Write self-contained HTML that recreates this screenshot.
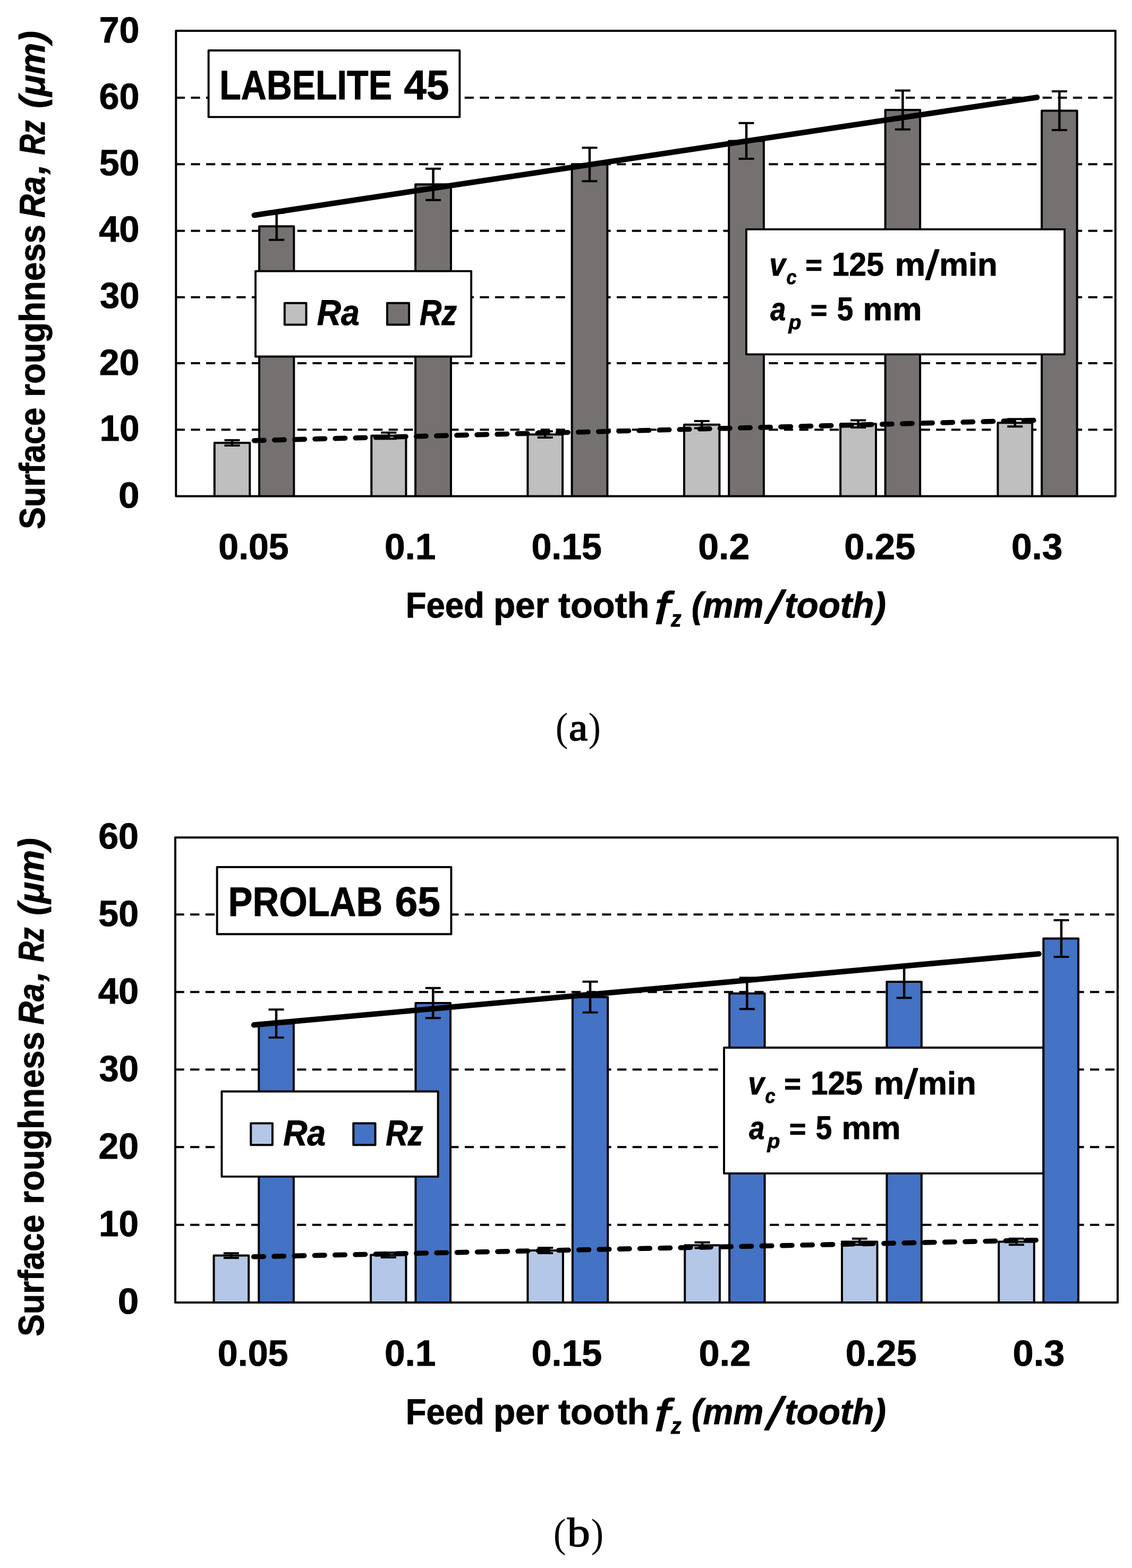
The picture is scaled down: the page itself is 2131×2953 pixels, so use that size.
<!DOCTYPE html>
<html lang="en"><head><meta charset="utf-8"><title>Surface roughness Ra, Rz versus feed per tooth</title>
<style>html,body{margin:0;padding:0;background:#fff}body{width:2131px;height:2953px;overflow:hidden}svg{display:block}text{font-kerning:none;white-space:pre;fill:#000;text-rendering:geometricPrecision}</style>
</head><body>
<svg width="2131" height="2953" viewBox="0 0 2131 2953" role="img">
<rect x="0" y="0" width="2131" height="2953" fill="#fff"/>
<g id="chart-a">
<g class="grid">
<line x1="330.75" y1="183.95" x2="2099.80" y2="183.95" stroke="#000" stroke-width="4.00" stroke-dasharray="17.20 11.43"/>
<line x1="330.75" y1="309.30" x2="2099.80" y2="309.30" stroke="#000" stroke-width="4.00" stroke-dasharray="17.20 11.43"/>
<line x1="330.75" y1="434.75" x2="2099.80" y2="434.75" stroke="#000" stroke-width="4.00" stroke-dasharray="17.20 11.43"/>
<line x1="330.75" y1="559.85" x2="2099.80" y2="559.85" stroke="#000" stroke-width="4.00" stroke-dasharray="17.20 11.43"/>
<line x1="330.75" y1="684.00" x2="2099.80" y2="684.00" stroke="#000" stroke-width="4.00" stroke-dasharray="17.20 11.43"/>
<line x1="330.75" y1="809.30" x2="2099.80" y2="809.30" stroke="#000" stroke-width="4.00" stroke-dasharray="17.20 11.43"/>
</g>
<g class="bars">
<path d="M403.75 934.40V834.00H470.24V934.40" fill="#bfbfbf" stroke="#000" stroke-width="4.00" stroke-linejoin="round"/>
<path d="M699.24 934.40V820.50H764.39V934.40" fill="#bfbfbf" stroke="#000" stroke-width="4.00" stroke-linejoin="round"/>
<path d="M993.38 934.40V818.20H1059.02V934.40" fill="#bfbfbf" stroke="#000" stroke-width="4.00" stroke-linejoin="round"/>
<path d="M1288.00 934.40V799.80H1354.40V934.40" fill="#bfbfbf" stroke="#000" stroke-width="4.00" stroke-linejoin="round"/>
<path d="M1582.16 934.40V798.25H1649.02V934.40" fill="#bfbfbf" stroke="#000" stroke-width="4.00" stroke-linejoin="round"/>
<path d="M1878.38 934.40V796.30H1943.16V934.40" fill="#bfbfbf" stroke="#000" stroke-width="4.00" stroke-linejoin="round"/>
<path d="M488.05 934.40V426.20H553.32V934.40" fill="#767171" stroke="#000" stroke-width="4.00" stroke-linejoin="round"/>
<path d="M782.07 934.40V347.30H848.93V934.40" fill="#767171" stroke="#000" stroke-width="4.00" stroke-linejoin="round"/>
<path d="M1076.60 934.40V309.74H1143.35V934.40" fill="#767171" stroke="#000" stroke-width="4.00" stroke-linejoin="round"/>
<path d="M1372.20 934.40V265.47H1437.85V934.40" fill="#767171" stroke="#000" stroke-width="4.00" stroke-linejoin="round"/>
<path d="M1666.60 934.40V207.10H1732.10V934.40" fill="#767171" stroke="#000" stroke-width="4.00" stroke-linejoin="round"/>
<path d="M1961.10 934.40V208.45H2027.60V934.40" fill="#767171" stroke="#000" stroke-width="4.00" stroke-linejoin="round"/>
</g>
<g class="errorbars" stroke="#000" fill="none">
<path d="M437.00 828.96V839.04" stroke-width="4.50"/>
<path d="M422.50 828.96H451.50M422.50 839.04H451.50" stroke-width="4.00"/>
<path d="M731.82 814.79V826.21" stroke-width="4.50"/>
<path d="M717.32 814.79H746.32M717.32 826.21H746.32" stroke-width="4.00"/>
<path d="M1026.20 812.37V824.03" stroke-width="4.50"/>
<path d="M1011.70 812.37H1040.70M1011.70 824.03H1040.70" stroke-width="4.00"/>
<path d="M1321.20 793.04V806.56" stroke-width="4.50"/>
<path d="M1306.70 793.04H1335.70M1306.70 806.56H1335.70" stroke-width="4.00"/>
<path d="M1615.59 791.42V805.08" stroke-width="4.50"/>
<path d="M1601.09 791.42H1630.09M1601.09 805.08H1630.09" stroke-width="4.00"/>
<path d="M1910.77 789.37V803.23" stroke-width="4.50"/>
<path d="M1896.27 789.37H1925.27M1896.27 803.23H1925.27" stroke-width="4.00"/>
<path d="M520.69 400.65V451.75" stroke-width="4.50"/>
<path d="M506.19 400.65H535.19M506.19 451.75H535.19" stroke-width="4.00"/>
<path d="M815.50 317.78V376.82" stroke-width="4.50"/>
<path d="M801.00 317.78H830.00M801.00 376.82H830.00" stroke-width="4.00"/>
<path d="M1109.97 278.33V341.15" stroke-width="4.50"/>
<path d="M1095.47 278.33H1124.47M1095.47 341.15H1124.47" stroke-width="4.00"/>
<path d="M1405.03 231.84V299.10" stroke-width="4.50"/>
<path d="M1390.53 231.84H1419.53M1390.53 299.10H1419.53" stroke-width="4.00"/>
<path d="M1699.35 170.53V243.67" stroke-width="4.50"/>
<path d="M1684.85 170.53H1713.85M1684.85 243.67H1713.85" stroke-width="4.00"/>
<path d="M1994.35 171.95V244.95" stroke-width="4.50"/>
<path d="M1979.85 171.95H2008.85M1979.85 244.95H2008.85" stroke-width="4.00"/>
</g>
<g class="trendlines">
<line x1="478.70" y1="405.30" x2="1952.10" y2="183.30" stroke="#000" stroke-width="10.40" stroke-linecap="round"/>
<line x1="478.50" y1="829.70" x2="1952.40" y2="791.40" stroke="#000" stroke-width="9.40" stroke-linecap="round" stroke-dasharray="18.70 19.44"/>
</g>
<rect x="331.30" y="58.10" width="1768.50" height="876.30" fill="none" stroke="#000" stroke-width="4.00" stroke-linejoin="round"/>
<g class="boxes">
<rect x="392.60" y="95.00" width="472.70" height="125.40" fill="#fff" stroke="#000" stroke-width="3.90" stroke-linejoin="round"/>
<rect x="481.00" y="510.60" width="406.10" height="160.90" fill="#fff" stroke="#000" stroke-width="3.90" stroke-linejoin="round"/>
<rect x="1404.90" y="431.85" width="599.25" height="235.50" fill="#fff" stroke="#000" stroke-width="3.90" stroke-linejoin="round"/>
<rect x="535.80" y="570.80" width="40.70" height="40.70" fill="#bfbfbf" stroke="#000" stroke-width="4.00" stroke-linejoin="round"/>
<rect x="728.90" y="570.80" width="41.20" height="40.70" fill="#767171" stroke="#000" stroke-width="4.00" stroke-linejoin="round"/>
</g>
<g class="labels">
<text font-family='"Liberation Sans", sans-serif' font-weight="bold"><tspan x="186.71" y="79.73" font-size="68.59" textLength="75.73" lengthAdjust="spacingAndGlyphs" stroke="#000" stroke-width="0.903" stroke-linejoin="round">70</tspan></text>
<text font-family='"Liberation Sans", sans-serif' font-weight="bold"><tspan x="186.60" y="204.93" font-size="68.59" textLength="75.85" lengthAdjust="spacingAndGlyphs" stroke="#000" stroke-width="0.903" stroke-linejoin="round">60</tspan></text>
<text font-family='"Liberation Sans", sans-serif' font-weight="bold"><tspan x="186.71" y="330.13" font-size="68.59" textLength="75.74" lengthAdjust="spacingAndGlyphs" stroke="#000" stroke-width="0.903" stroke-linejoin="round">50</tspan></text>
<text font-family='"Liberation Sans", sans-serif' font-weight="bold"><tspan x="186.17" y="455.33" font-size="68.59" textLength="76.30" lengthAdjust="spacingAndGlyphs" stroke="#000" stroke-width="0.900" stroke-linejoin="round">40</tspan></text>
<text font-family='"Liberation Sans", sans-serif' font-weight="bold"><tspan x="187.88" y="580.43" font-size="68.59" textLength="74.52" lengthAdjust="spacingAndGlyphs" stroke="#000" stroke-width="0.911" stroke-linejoin="round">30</tspan></text>
<text font-family='"Liberation Sans", sans-serif' font-weight="bold"><tspan x="186.81" y="705.53" font-size="68.59" textLength="75.63" lengthAdjust="spacingAndGlyphs" stroke="#000" stroke-width="0.904" stroke-linejoin="round">20</tspan></text>
<text font-family='"Liberation Sans", sans-serif' font-weight="bold"><tspan x="187.39" y="830.23" font-size="68.59" textLength="75.03" lengthAdjust="spacingAndGlyphs" stroke="#000" stroke-width="0.908" stroke-linejoin="round">10</tspan></text>
<text font-family='"Liberation Sans", sans-serif' font-weight="bold"><tspan x="223.09" y="956.13" font-size="68.59" textLength="39.48" lengthAdjust="spacingAndGlyphs" stroke="#000" stroke-width="0.885" stroke-linejoin="round">0</tspan></text>
<text font-family='"Liberation Sans", sans-serif' font-weight="bold"><tspan x="411.36" y="1053.23" font-size="68.59" textLength="132.28" lengthAdjust="spacingAndGlyphs" stroke="#000" stroke-width="0.904" stroke-linejoin="round">0.05</tspan></text>
<text font-family='"Liberation Sans", sans-serif' font-weight="bold"><tspan x="723.90" y="1053.23" font-size="68.59" textLength="96.58" lengthAdjust="spacingAndGlyphs" stroke="#000" stroke-width="0.894" stroke-linejoin="round">0.1</tspan></text>
<text font-family='"Liberation Sans", sans-serif' font-weight="bold"><tspan x="1000.46" y="1053.23" font-size="68.59" textLength="132.38" lengthAdjust="spacingAndGlyphs" stroke="#000" stroke-width="0.904" stroke-linejoin="round">0.15</tspan></text>
<text font-family='"Liberation Sans", sans-serif' font-weight="bold"><tspan x="1314.19" y="1053.23" font-size="68.59" textLength="97.06" lengthAdjust="spacingAndGlyphs" stroke="#000" stroke-width="0.892" stroke-linejoin="round">0.2</tspan></text>
<text font-family='"Liberation Sans", sans-serif' font-weight="bold"><tspan x="1589.33" y="1053.23" font-size="68.59" textLength="133.94" lengthAdjust="spacingAndGlyphs" stroke="#000" stroke-width="0.899" stroke-linejoin="round">0.25</tspan></text>
<text font-family='"Liberation Sans", sans-serif' font-weight="bold"><tspan x="1903.90" y="1053.23" font-size="68.59" textLength="96.66" lengthAdjust="spacingAndGlyphs" stroke="#000" stroke-width="0.894" stroke-linejoin="round">0.3</tspan></text>
<text font-family='"Liberation Sans", sans-serif' font-weight="bold"><tspan x="413.31" y="186.53" font-size="77.32" textLength="324.64" lengthAdjust="spacingAndGlyphs" stroke="#000" stroke-width="0.971" stroke-linejoin="round">LABELITE</tspan><tspan> </tspan><tspan x="760.50" y="186.53" font-size="78.11" textLength="84.77" lengthAdjust="spacingAndGlyphs" stroke="#000" stroke-width="0.911" stroke-linejoin="round">45</tspan></text>
<text font-family='"Liberation Sans", sans-serif' font-weight="bold"><tspan x="596.75" y="612.13" font-size="67.59" textLength="80.03" lengthAdjust="spacingAndGlyphs" font-style="italic" stroke="#000" stroke-width="0.935" stroke-linejoin="round">Ra</tspan></text>
<text font-family='"Liberation Sans", sans-serif' font-weight="bold"><tspan x="789.94" y="612.13" font-size="67.59" textLength="70.10" lengthAdjust="spacingAndGlyphs" font-style="italic" stroke="#000" stroke-width="0.977" stroke-linejoin="round">Rz</tspan></text>
<text font-family='"Liberation Sans", sans-serif' font-weight="bold"><tspan x="763.71" y="1162.83" font-size="67.59" textLength="148.02" lengthAdjust="spacingAndGlyphs" stroke="#000" stroke-width="0.929" stroke-linejoin="round">Feed</tspan><tspan> </tspan><tspan x="929.01" y="1162.83" font-size="67.59" textLength="104.76" lengthAdjust="spacingAndGlyphs" stroke="#000" stroke-width="0.902" stroke-linejoin="round">per</tspan><tspan> </tspan><tspan x="1051.11" y="1162.83" font-size="67.59" textLength="171.29" lengthAdjust="spacingAndGlyphs" stroke="#000" stroke-width="0.894" stroke-linejoin="round">tooth</tspan><tspan> </tspan><tspan x="1232.10" y="1175.30" font-size="85.98" textLength="28.83" lengthAdjust="spacingAndGlyphs" font-style="italic" font-weight="normal" stroke="#000" stroke-width="1.547" stroke-linejoin="round">f</tspan><tspan x="1263.04" y="1180.43" font-size="43.47" textLength="19.58" lengthAdjust="spacingAndGlyphs" font-style="italic" stroke="#000" stroke-width="0.948" stroke-linejoin="round">z</tspan><tspan> </tspan><tspan x="1301.93" y="1162.83" font-size="67.59" textLength="135.48" lengthAdjust="spacingAndGlyphs" font-style="italic" stroke="#000" stroke-width="0.924" stroke-linejoin="round">(mm</tspan><tspan x="1444.84" y="1172.86" font-size="85.92" textLength="26.70" lengthAdjust="spacingAndGlyphs" font-style="italic" font-weight="normal" stroke="#000" stroke-width="2.080" stroke-linejoin="round">/</tspan><tspan x="1477.12" y="1162.83" font-size="67.59" textLength="190.80" lengthAdjust="spacingAndGlyphs" font-style="italic" stroke="#000" stroke-width="0.901" stroke-linejoin="round">tooth)</tspan></text>
<text font-family='"Liberation Sans", sans-serif' font-weight="bold"><tspan x="1448.20" y="518.63" font-size="60.42" textLength="30.56" lengthAdjust="spacingAndGlyphs" font-style="italic" stroke="#000" stroke-width="0.944" stroke-linejoin="round">v</tspan><tspan x="1480.50" y="534.73" font-size="38.20" textLength="19.06" lengthAdjust="spacingAndGlyphs" font-style="italic" stroke="#000" stroke-width="0.950" stroke-linejoin="round">c</tspan><tspan> </tspan><tspan x="1516.58" y="517.11" font-size="52.13" textLength="31.21" lengthAdjust="spacingAndGlyphs" stroke="#000" stroke-width="1.383" stroke-linejoin="round">=</tspan><tspan> </tspan><tspan x="1565.96" y="518.63" font-size="61.66" textLength="97.82" lengthAdjust="spacingAndGlyphs" stroke="#000" stroke-width="0.923" stroke-linejoin="round">125</tspan><tspan> </tspan><tspan x="1684.58" y="518.63" font-size="60.42" textLength="57.59" lengthAdjust="spacingAndGlyphs" stroke="#000" stroke-width="0.869" stroke-linejoin="round">m</tspan><tspan x="1742.60" y="526.35" font-size="77.07" textLength="25.10" lengthAdjust="spacingAndGlyphs" font-weight="normal" stroke="#000" stroke-width="1.847" stroke-linejoin="round">/</tspan><tspan x="1768.08" y="518.63" font-size="60.42" textLength="109.69" lengthAdjust="spacingAndGlyphs" stroke="#000" stroke-width="0.891" stroke-linejoin="round">min</tspan></text>
<text font-family='"Liberation Sans", sans-serif' font-weight="bold"><tspan x="1450.30" y="603.33" font-size="60.42" textLength="28.98" lengthAdjust="spacingAndGlyphs" font-style="italic" stroke="#000" stroke-width="0.969" stroke-linejoin="round">a</tspan><tspan x="1484.41" y="619.73" font-size="38.20" textLength="23.90" lengthAdjust="spacingAndGlyphs" font-style="italic" stroke="#000" stroke-width="0.889" stroke-linejoin="round">p</tspan><tspan> </tspan><tspan x="1526.08" y="601.81" font-size="52.13" textLength="31.21" lengthAdjust="spacingAndGlyphs" stroke="#000" stroke-width="1.383" stroke-linejoin="round">=</tspan><tspan> </tspan><tspan x="1575.77" y="603.33" font-size="61.66" textLength="30.40" lengthAdjust="spacingAndGlyphs" stroke="#000" stroke-width="0.956" stroke-linejoin="round">5</tspan><tspan> </tspan><tspan x="1624.44" y="603.33" font-size="60.42" textLength="110.98" lengthAdjust="spacingAndGlyphs" stroke="#000" stroke-width="0.886" stroke-linejoin="round">mm</tspan></text>
<text font-family='"Liberation Sans", sans-serif' font-weight="bold" transform="translate(83.80 0) rotate(-90)"><tspan x="-996.65" y="-0.27" font-size="67.59" textLength="229.03" lengthAdjust="spacingAndGlyphs" stroke="#000" stroke-width="0.936" stroke-linejoin="round">Surface</tspan><tspan> </tspan><tspan x="-747.63" y="-0.27" font-size="67.59" textLength="324.39" lengthAdjust="spacingAndGlyphs" stroke="#000" stroke-width="0.929" stroke-linejoin="round">roughness</tspan><tspan> </tspan><tspan x="-409.92" y="-0.27" font-size="67.59" textLength="77.85" lengthAdjust="spacingAndGlyphs" font-style="italic" stroke="#000" stroke-width="0.948" stroke-linejoin="round">Ra</tspan><tspan x="-327.89" y="-0.27" font-size="67.59" textLength="18.69" lengthAdjust="spacingAndGlyphs" font-style="italic" stroke="#000" stroke-width="0.902" stroke-linejoin="round">,</tspan><tspan> </tspan><tspan x="-291.79" y="-0.27" font-size="67.59" textLength="65.41" lengthAdjust="spacingAndGlyphs" font-style="italic" stroke="#000" stroke-width="1.011" stroke-linejoin="round">Rz</tspan><tspan> </tspan><tspan x="-203.99" y="-0.27" font-size="67.59" textLength="145.72" lengthAdjust="spacingAndGlyphs" font-style="italic" stroke="#000" stroke-width="0.900" stroke-linejoin="round">(μm)</tspan></text>
</g>
</g>
<g id="chart-b">
<g class="grid">
<line x1="329.40" y1="1722.20" x2="2104.00" y2="1722.20" stroke="#000" stroke-width="4.00" stroke-dasharray="17.25 11.46"/>
<line x1="329.40" y1="1868.15" x2="2104.00" y2="1868.15" stroke="#000" stroke-width="4.00" stroke-dasharray="17.25 11.46"/>
<line x1="329.40" y1="2014.20" x2="2104.00" y2="2014.20" stroke="#000" stroke-width="4.00" stroke-dasharray="17.25 11.46"/>
<line x1="329.40" y1="2160.30" x2="2104.00" y2="2160.30" stroke="#000" stroke-width="4.00" stroke-dasharray="17.25 11.46"/>
<line x1="329.40" y1="2306.80" x2="2104.00" y2="2306.80" stroke="#000" stroke-width="4.00" stroke-dasharray="17.25 11.46"/>
</g>
<g class="bars">
<path d="M402.53 2452.95V2364.60H468.17V2452.95" fill="#b4c7e7" stroke="#000" stroke-width="4.00" stroke-linejoin="round"/>
<path d="M698.00 2452.95V2363.60H764.40V2452.95" fill="#b4c7e7" stroke="#000" stroke-width="4.00" stroke-linejoin="round"/>
<path d="M993.38 2452.95V2355.00H1059.88V2452.95" fill="#b4c7e7" stroke="#000" stroke-width="4.00" stroke-linejoin="round"/>
<path d="M1289.20 2452.95V2345.20H1354.90V2452.95" fill="#b4c7e7" stroke="#000" stroke-width="4.00" stroke-linejoin="round"/>
<path d="M1584.97 2452.95V2338.50H1651.46V2452.95" fill="#b4c7e7" stroke="#000" stroke-width="4.00" stroke-linejoin="round"/>
<path d="M1880.20 2452.95V2338.50H1946.80V2452.95" fill="#b4c7e7" stroke="#000" stroke-width="4.00" stroke-linejoin="round"/>
<path d="M487.20 2452.95V1927.60H552.85V2452.95" fill="#4472c4" stroke="#000" stroke-width="4.00" stroke-linejoin="round"/>
<path d="M782.40 2452.95V1889.00H848.00V2452.95" fill="#4472c4" stroke="#000" stroke-width="4.00" stroke-linejoin="round"/>
<path d="M1077.85 2452.95V1877.70H1144.20V2452.95" fill="#4472c4" stroke="#000" stroke-width="4.00" stroke-linejoin="round"/>
<path d="M1373.10 2452.95V1870.90H1439.55V2452.95" fill="#4472c4" stroke="#000" stroke-width="4.00" stroke-linejoin="round"/>
<path d="M1669.40 2452.95V1848.95H1734.80V2452.95" fill="#4472c4" stroke="#000" stroke-width="4.00" stroke-linejoin="round"/>
<path d="M1964.30 2452.95V1767.40H2030.00V2452.95" fill="#4472c4" stroke="#000" stroke-width="4.00" stroke-linejoin="round"/>
</g>
<g class="errorbars" stroke="#000" fill="none">
<path d="M435.35 2360.15V2369.05" stroke-width="4.50"/>
<path d="M420.85 2360.15H449.85M420.85 2369.05H449.85" stroke-width="4.00"/>
<path d="M731.20 2359.10V2368.10" stroke-width="4.50"/>
<path d="M716.70 2359.10H745.70M716.70 2368.10H745.70" stroke-width="4.00"/>
<path d="M1026.63 2350.07V2359.93" stroke-width="4.50"/>
<path d="M1012.13 2350.07H1041.13M1012.13 2359.93H1041.13" stroke-width="4.00"/>
<path d="M1322.05 2339.78V2350.62" stroke-width="4.50"/>
<path d="M1307.55 2339.78H1336.55M1307.55 2350.62H1336.55" stroke-width="4.00"/>
<path d="M1618.22 2332.74V2344.26" stroke-width="4.50"/>
<path d="M1603.72 2332.74H1632.72M1603.72 2344.26H1632.72" stroke-width="4.00"/>
<path d="M1913.50 2332.74V2344.26" stroke-width="4.50"/>
<path d="M1899.00 2332.74H1928.00M1899.00 2344.26H1928.00" stroke-width="4.00"/>
<path d="M520.02 1901.17V1954.03" stroke-width="4.50"/>
<path d="M505.52 1901.17H534.52M505.52 1954.03H534.52" stroke-width="4.00"/>
<path d="M815.20 1860.63V1917.37" stroke-width="4.50"/>
<path d="M800.70 1860.63H829.70M800.70 1917.37H829.70" stroke-width="4.00"/>
<path d="M1111.03 1848.76V1906.64" stroke-width="4.50"/>
<path d="M1096.53 1848.76H1125.53M1096.53 1906.64H1125.53" stroke-width="4.00"/>
<path d="M1406.32 1841.62V1900.18" stroke-width="4.50"/>
<path d="M1391.82 1841.62H1420.82M1391.82 1900.18H1420.82" stroke-width="4.00"/>
<path d="M1702.10 1818.57V1879.33" stroke-width="4.50"/>
<path d="M1687.60 1818.57H1716.60M1687.60 1879.33H1716.60" stroke-width="4.00"/>
<path d="M1997.95 1732.91V1801.89" stroke-width="4.50"/>
<path d="M1983.45 1732.91H2012.45M1983.45 1801.89H2012.45" stroke-width="4.00"/>
</g>
<g class="trendlines">
<line x1="478.00" y1="1930.30" x2="1955.70" y2="1796.40" stroke="#000" stroke-width="10.40" stroke-linecap="round"/>
<line x1="477.60" y1="2366.80" x2="1950.60" y2="2335.60" stroke="#000" stroke-width="9.40" stroke-linecap="round" stroke-dasharray="18.76 19.51"/>
</g>
<rect x="329.95" y="1577.20" width="1774.05" height="875.75" fill="none" stroke="#000" stroke-width="4.00" stroke-linejoin="round"/>
<g class="boxes">
<rect x="408.60" y="1633.00" width="440.80" height="126.20" fill="#fff" stroke="#000" stroke-width="3.90" stroke-linejoin="round"/>
<rect x="417.40" y="2055.50" width="407.20" height="160.40" fill="#fff" stroke="#000" stroke-width="3.90" stroke-linejoin="round"/>
<rect x="1363.00" y="1973.00" width="601.10" height="236.90" fill="#fff" stroke="#000" stroke-width="3.90" stroke-linejoin="round"/>
<rect x="472.20" y="2115.60" width="40.70" height="40.70" fill="#b4c7e7" stroke="#000" stroke-width="4.00" stroke-linejoin="round"/>
<rect x="665.30" y="2115.60" width="41.20" height="40.70" fill="#4472c4" stroke="#000" stroke-width="4.00" stroke-linejoin="round"/>
</g>
<g class="labels">
<text font-family='"Liberation Sans", sans-serif' font-weight="bold"><tspan x="221.69" y="2474.33" font-size="68.59" textLength="39.48" lengthAdjust="spacingAndGlyphs" stroke="#000" stroke-width="0.885" stroke-linejoin="round">0</tspan></text>
<text font-family='"Liberation Sans", sans-serif' font-weight="bold"><tspan x="185.99" y="2328.23" font-size="68.59" textLength="75.03" lengthAdjust="spacingAndGlyphs" stroke="#000" stroke-width="0.908" stroke-linejoin="round">10</tspan></text>
<text font-family='"Liberation Sans", sans-serif' font-weight="bold"><tspan x="185.41" y="2182.13" font-size="68.59" textLength="75.63" lengthAdjust="spacingAndGlyphs" stroke="#000" stroke-width="0.904" stroke-linejoin="round">20</tspan></text>
<text font-family='"Liberation Sans", sans-serif' font-weight="bold"><tspan x="186.48" y="2036.03" font-size="68.59" textLength="74.52" lengthAdjust="spacingAndGlyphs" stroke="#000" stroke-width="0.911" stroke-linejoin="round">30</tspan></text>
<text font-family='"Liberation Sans", sans-serif' font-weight="bold"><tspan x="184.77" y="1889.93" font-size="68.59" textLength="76.30" lengthAdjust="spacingAndGlyphs" stroke="#000" stroke-width="0.900" stroke-linejoin="round">40</tspan></text>
<text font-family='"Liberation Sans", sans-serif' font-weight="bold"><tspan x="185.31" y="1743.83" font-size="68.59" textLength="75.74" lengthAdjust="spacingAndGlyphs" stroke="#000" stroke-width="0.903" stroke-linejoin="round">50</tspan></text>
<text font-family='"Liberation Sans", sans-serif' font-weight="bold"><tspan x="185.20" y="1597.73" font-size="68.59" textLength="75.85" lengthAdjust="spacingAndGlyphs" stroke="#000" stroke-width="0.903" stroke-linejoin="round">60</tspan></text>
<text font-family='"Liberation Sans", sans-serif' font-weight="bold"><tspan x="409.85" y="2572.03" font-size="68.59" textLength="132.69" lengthAdjust="spacingAndGlyphs" stroke="#000" stroke-width="0.903" stroke-linejoin="round">0.05</tspan></text>
<text font-family='"Liberation Sans", sans-serif' font-weight="bold"><tspan x="723.90" y="2572.03" font-size="68.59" textLength="96.58" lengthAdjust="spacingAndGlyphs" stroke="#000" stroke-width="0.894" stroke-linejoin="round">0.1</tspan></text>
<text font-family='"Liberation Sans", sans-serif' font-weight="bold"><tspan x="1000.45" y="2572.03" font-size="68.59" textLength="132.90" lengthAdjust="spacingAndGlyphs" stroke="#000" stroke-width="0.902" stroke-linejoin="round">0.15</tspan></text>
<text font-family='"Liberation Sans", sans-serif' font-weight="bold"><tspan x="1315.47" y="2572.03" font-size="68.59" textLength="97.80" lengthAdjust="spacingAndGlyphs" stroke="#000" stroke-width="0.889" stroke-linejoin="round">0.2</tspan></text>
<text font-family='"Liberation Sans", sans-serif' font-weight="bold"><tspan x="1591.83" y="2572.03" font-size="68.59" textLength="133.94" lengthAdjust="spacingAndGlyphs" stroke="#000" stroke-width="0.899" stroke-linejoin="round">0.25</tspan></text>
<text font-family='"Liberation Sans", sans-serif' font-weight="bold"><tspan x="1906.46" y="2572.03" font-size="68.59" textLength="97.93" lengthAdjust="spacingAndGlyphs" stroke="#000" stroke-width="0.888" stroke-linejoin="round">0.3</tspan></text>
<text font-family='"Liberation Sans", sans-serif' font-weight="bold"><tspan x="429.55" y="1724.73" font-size="77.32" textLength="290.53" lengthAdjust="spacingAndGlyphs" stroke="#000" stroke-width="0.954" stroke-linejoin="round">PROLAB</tspan><tspan> </tspan><tspan x="743.43" y="1724.73" font-size="78.11" textLength="85.66" lengthAdjust="spacingAndGlyphs" stroke="#000" stroke-width="0.906" stroke-linejoin="round">65</tspan></text>
<text font-family='"Liberation Sans", sans-serif' font-weight="bold"><tspan x="533.15" y="2156.93" font-size="67.59" textLength="80.03" lengthAdjust="spacingAndGlyphs" font-style="italic" stroke="#000" stroke-width="0.935" stroke-linejoin="round">Ra</tspan></text>
<text font-family='"Liberation Sans", sans-serif' font-weight="bold"><tspan x="726.34" y="2156.93" font-size="67.59" textLength="70.10" lengthAdjust="spacingAndGlyphs" font-style="italic" stroke="#000" stroke-width="0.977" stroke-linejoin="round">Rz</tspan></text>
<text font-family='"Liberation Sans", sans-serif' font-weight="bold"><tspan x="763.71" y="2682.03" font-size="67.59" textLength="148.02" lengthAdjust="spacingAndGlyphs" stroke="#000" stroke-width="0.929" stroke-linejoin="round">Feed</tspan><tspan> </tspan><tspan x="929.01" y="2682.03" font-size="67.59" textLength="104.76" lengthAdjust="spacingAndGlyphs" stroke="#000" stroke-width="0.902" stroke-linejoin="round">per</tspan><tspan> </tspan><tspan x="1051.11" y="2682.03" font-size="67.59" textLength="171.29" lengthAdjust="spacingAndGlyphs" stroke="#000" stroke-width="0.894" stroke-linejoin="round">tooth</tspan><tspan> </tspan><tspan x="1232.10" y="2694.50" font-size="85.98" textLength="28.83" lengthAdjust="spacingAndGlyphs" font-style="italic" font-weight="normal" stroke="#000" stroke-width="1.547" stroke-linejoin="round">f</tspan><tspan x="1263.04" y="2699.63" font-size="43.47" textLength="19.58" lengthAdjust="spacingAndGlyphs" font-style="italic" stroke="#000" stroke-width="0.948" stroke-linejoin="round">z</tspan><tspan> </tspan><tspan x="1301.93" y="2682.03" font-size="67.59" textLength="135.48" lengthAdjust="spacingAndGlyphs" font-style="italic" stroke="#000" stroke-width="0.924" stroke-linejoin="round">(mm</tspan><tspan x="1444.84" y="2692.06" font-size="85.92" textLength="26.70" lengthAdjust="spacingAndGlyphs" font-style="italic" font-weight="normal" stroke="#000" stroke-width="2.080" stroke-linejoin="round">/</tspan><tspan x="1477.12" y="2682.03" font-size="67.59" textLength="190.80" lengthAdjust="spacingAndGlyphs" font-style="italic" stroke="#000" stroke-width="0.901" stroke-linejoin="round">tooth)</tspan></text>
<text font-family='"Liberation Sans", sans-serif' font-weight="bold"><tspan x="1408.20" y="2060.63" font-size="60.42" textLength="30.56" lengthAdjust="spacingAndGlyphs" font-style="italic" stroke="#000" stroke-width="0.944" stroke-linejoin="round">v</tspan><tspan x="1440.50" y="2076.73" font-size="38.20" textLength="19.06" lengthAdjust="spacingAndGlyphs" font-style="italic" stroke="#000" stroke-width="0.950" stroke-linejoin="round">c</tspan><tspan> </tspan><tspan x="1476.58" y="2059.11" font-size="52.13" textLength="31.21" lengthAdjust="spacingAndGlyphs" stroke="#000" stroke-width="1.383" stroke-linejoin="round">=</tspan><tspan> </tspan><tspan x="1525.96" y="2060.63" font-size="61.66" textLength="97.82" lengthAdjust="spacingAndGlyphs" stroke="#000" stroke-width="0.923" stroke-linejoin="round">125</tspan><tspan> </tspan><tspan x="1644.58" y="2060.63" font-size="60.42" textLength="57.59" lengthAdjust="spacingAndGlyphs" stroke="#000" stroke-width="0.869" stroke-linejoin="round">m</tspan><tspan x="1702.60" y="2068.35" font-size="77.07" textLength="25.10" lengthAdjust="spacingAndGlyphs" font-weight="normal" stroke="#000" stroke-width="1.847" stroke-linejoin="round">/</tspan><tspan x="1728.08" y="2060.63" font-size="60.42" textLength="109.69" lengthAdjust="spacingAndGlyphs" stroke="#000" stroke-width="0.891" stroke-linejoin="round">min</tspan></text>
<text font-family='"Liberation Sans", sans-serif' font-weight="bold"><tspan x="1410.30" y="2145.33" font-size="60.42" textLength="28.98" lengthAdjust="spacingAndGlyphs" font-style="italic" stroke="#000" stroke-width="0.969" stroke-linejoin="round">a</tspan><tspan x="1444.41" y="2161.73" font-size="38.20" textLength="23.90" lengthAdjust="spacingAndGlyphs" font-style="italic" stroke="#000" stroke-width="0.889" stroke-linejoin="round">p</tspan><tspan> </tspan><tspan x="1486.08" y="2143.81" font-size="52.13" textLength="31.21" lengthAdjust="spacingAndGlyphs" stroke="#000" stroke-width="1.383" stroke-linejoin="round">=</tspan><tspan> </tspan><tspan x="1535.77" y="2145.33" font-size="61.66" textLength="30.40" lengthAdjust="spacingAndGlyphs" stroke="#000" stroke-width="0.956" stroke-linejoin="round">5</tspan><tspan> </tspan><tspan x="1584.44" y="2145.33" font-size="60.42" textLength="110.98" lengthAdjust="spacingAndGlyphs" stroke="#000" stroke-width="0.886" stroke-linejoin="round">mm</tspan></text>
<text font-family='"Liberation Sans", sans-serif' font-weight="bold" transform="translate(81.90 0) rotate(-90)"><tspan x="-2516.65" y="-0.27" font-size="67.59" textLength="229.03" lengthAdjust="spacingAndGlyphs" stroke="#000" stroke-width="0.936" stroke-linejoin="round">Surface</tspan><tspan> </tspan><tspan x="-2267.63" y="-0.27" font-size="67.59" textLength="324.39" lengthAdjust="spacingAndGlyphs" stroke="#000" stroke-width="0.929" stroke-linejoin="round">roughness</tspan><tspan> </tspan><tspan x="-1929.92" y="-0.27" font-size="67.59" textLength="77.85" lengthAdjust="spacingAndGlyphs" font-style="italic" stroke="#000" stroke-width="0.948" stroke-linejoin="round">Ra</tspan><tspan x="-1847.89" y="-0.27" font-size="67.59" textLength="18.69" lengthAdjust="spacingAndGlyphs" font-style="italic" stroke="#000" stroke-width="0.902" stroke-linejoin="round">,</tspan><tspan> </tspan><tspan x="-1811.79" y="-0.27" font-size="67.59" textLength="65.41" lengthAdjust="spacingAndGlyphs" font-style="italic" stroke="#000" stroke-width="1.011" stroke-linejoin="round">Rz</tspan><tspan> </tspan><tspan x="-1723.99" y="-0.27" font-size="67.59" textLength="145.72" lengthAdjust="spacingAndGlyphs" font-style="italic" stroke="#000" stroke-width="0.900" stroke-linejoin="round">(μm)</tspan></text>
</g>
</g>
<g id="captions">
<text font-family='"Liberation Serif", serif' font-weight="bold"><tspan x="1045.79" y="1395.30" font-size="76.40" textLength="23.60" lengthAdjust="spacingAndGlyphs" font-weight="normal">(</tspan><tspan x="1071.01" y="1393.60" font-size="71.82" textLength="35.17" lengthAdjust="spacingAndGlyphs" font-weight="normal" stroke="#000" stroke-width="1.904" stroke-linejoin="round">a</tspan><tspan x="1107.75" y="1395.30" font-size="76.40" textLength="23.21" lengthAdjust="spacingAndGlyphs" font-weight="normal">)</tspan></text>
<text font-family='"Liberation Serif", serif' font-weight="bold"><tspan x="1041.77" y="2912.50" font-size="76.40" textLength="23.73" lengthAdjust="spacingAndGlyphs" font-weight="normal">(</tspan><tspan x="1067.80" y="2912.10" font-size="77.11" textLength="43.08" lengthAdjust="spacingAndGlyphs" font-weight="normal" stroke="#000" stroke-width="1.419" stroke-linejoin="round">b</tspan><tspan x="1112.63" y="2912.50" font-size="76.40" textLength="23.47" lengthAdjust="spacingAndGlyphs" font-weight="normal">)</tspan></text>
</g>
</svg>
</body></html>
